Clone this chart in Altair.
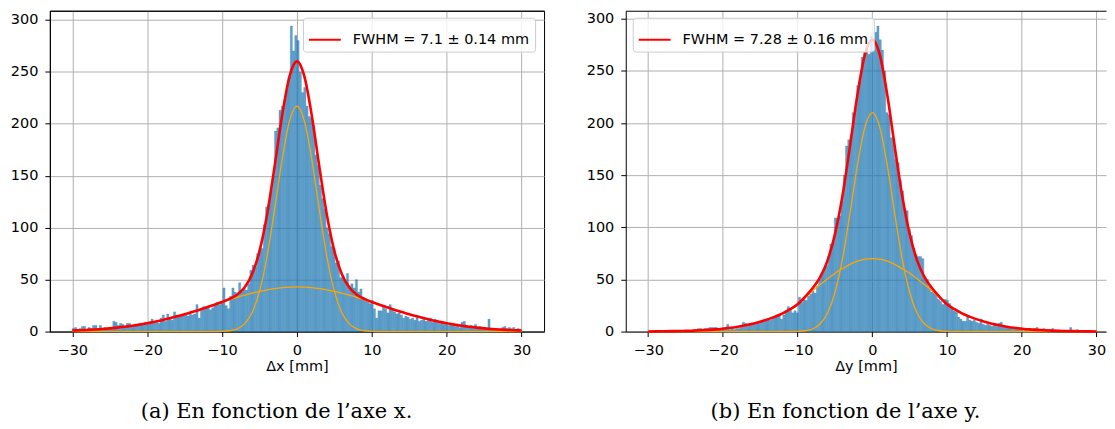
import altair as alt
import numpy as np
import pandas as pd

# ---------------- data ----------------
bin_lo = -30.0
bin_width = 0.3

counts_dx = [3, 4, 2, 3, 5, 5, 2, 4, 3, 6, 6, 3, 6, 2, 4, 3, 4, 4, 10, 9,
             6, 8, 7, 5, 8, 8, 5, 6, 7, 6, 8, 7, 9, 7, 8, 12, 9, 10, 8, 13,
             16, 10, 17, 13, 11, 19, 16, 15, 17, 15, 16, 15, 18, 16, 17, 26, 13, 22, 24, 23,
             24, 21, 23, 25, 28, 26, 28, 42, 25, 22, 34, 42, 38, 36, 47, 38, 42, 40, 46, 59,
             64, 62, 75, 78, 80, 103, 120, 122, 136, 150, 193, 196, 213, 217, 222, 232, 245, 294, 270, 285,
             280, 250, 230, 235, 217, 207, 205, 198, 170, 160, 141, 128, 118, 100, 94, 82, 80, 66, 68, 52,
             54, 48, 56, 44, 46, 42, 50, 38, 41, 33, 31, 29, 27, 30, 22, 13, 20, 20, 25, 22,
             18, 26, 21, 19, 17, 18, 16, 13, 15, 14, 12, 13, 11, 14, 10, 11, 12, 10, 11, 13,
             9, 12, 11, 8, 9, 7, 9, 6, 8, 6, 5, 7, 4, 9, 10, 6, 5, 6, 5, 7,
             4, 5, 3, 4, 3, 12, 3, 2, 3, 2, 1, 4, 5, 3, 4, 3, 4, 2, 3, 2]

counts_dy = [0, 0, 0, 0, 0, 0, 0, 0, 0, 0, 0, 0, 0, 0, 0, 1, 0, 1, 1, 0,
             1, 2, 3, 3, 2, 3, 3, 4, 4, 4, 4, 3, 2, 3, 3, 7, 2, 3, 2, 3,
             3, 4, 9, 8, 5, 6, 8, 7, 9, 8, 10, 11, 10, 12, 11, 13, 15, 16, 17, 12,
             16, 20, 24, 22, 18, 20, 18, 33, 28, 31, 30, 34, 36, 39, 37, 44, 50, 55, 61, 63,
             72, 84, 86, 109, 109, 111, 125, 150, 178, 184, 189, 210, 214, 236, 241, 263, 268, 272, 266, 283,
             269, 287, 293, 280, 270, 250, 210, 208, 186, 185, 165, 162, 145, 135, 118, 116, 98, 92, 80, 74,
             72, 72, 70, 53, 50, 43, 38, 39, 37, 31, 29, 26, 31, 30, 27, 23, 20, 19, 14, 12,
             10, 10, 14, 11, 10, 11, 9, 8, 12, 7, 6, 7, 6, 5, 7, 5, 8, 9, 6, 4,
             5, 4, 3, 4, 4, 3, 2, 1, 2, 1, 2, 1, 3, 4, 2, 1, 3, 1, 1, 2,
             3, 1, 0, 1, 1, 0, 1, 0, 4, 0, 1, 2, 0, 0, 1, 0, 0, 0, 0, 0]

curve_pos = list(range(-30, 31))

fit_dx_total = [1.0, 1.25, 1.6, 2.0, 2.5, 3.1, 3.8, 4.6, 5.6, 6.7, 8.0, 9.4, 11.0, 12.8, 14.7, 16.7,
                18.9, 21.1, 23.5, 25.9, 28.4, 31.4, 35.5, 42.4, 55.1, 77.4, 112.2, 158.1, 207.0, 245.3,
                260.0,
                245.3, 207.0, 158.1, 112.2, 77.4, 55.1, 42.4, 35.5, 31.4, 28.4, 25.9, 23.5, 21.1, 18.9,
                16.7, 14.7, 12.8, 11.0, 9.4, 8.0, 6.7, 5.6, 4.6, 3.8, 3.1, 2.5, 2.0, 1.6, 1.25, 1.0]
fit_dx_narrow = [0, 0, 0, 0, 0, 0, 0, 0, 0, 0, 0, 0, 0, 0, 0, 0, 0, 0, 0, 0,
                 0.2, 0.8, 2.6, 7.4, 18.1, 38.7, 72.0, 116.7, 164.7, 202.5,
                 217.0,
                 202.5, 164.7, 116.7, 72.0, 38.7, 18.1, 7.4, 2.6, 0.8, 0.2,
                 0, 0, 0, 0, 0, 0, 0, 0, 0, 0, 0, 0, 0, 0, 0, 0, 0, 0, 0, 0]
fit_dx_wide = [1.0, 1.25, 1.6, 2.0, 2.5, 3.1, 3.8, 4.6, 5.6, 6.7, 8.0, 9.4, 11.0, 12.8, 14.7, 16.7,
               18.9, 21.1, 23.5, 25.9, 28.2, 30.6, 32.9, 35.0, 37.0, 38.7, 40.2, 41.4, 42.3, 42.8,
               43.0,
               42.8, 42.3, 41.4, 40.2, 38.7, 37.0, 35.0, 32.9, 30.6, 28.2, 25.9, 23.5, 21.1, 18.9,
               16.7, 14.7, 12.8, 11.0, 9.4, 8.0, 6.7, 5.6, 4.6, 3.8, 3.1, 2.5, 2.0, 1.6, 1.25, 1.0]

fit_dy_total = [0.15, 0.2, 0.3, 0.4, 0.5, 0.7, 0.9, 1.2, 1.6, 2.1, 2.8, 3.6, 4.7, 6.0, 7.6, 9.5,
                11.7, 14.3, 17.5, 21.5, 26.2, 33.3, 41.5, 52.0, 68.1, 93.5, 130.0, 177.4, 226.9, 265.3,
                280.0,
                265.3, 226.9, 177.4, 130.0, 93.5, 68.1, 52.0, 41.5, 33.3, 26.2, 21.5, 17.5, 14.3, 11.7,
                9.5, 7.6, 6.0, 4.7, 3.6, 2.8, 2.1, 1.6, 1.2, 0.9, 0.7, 0.5, 0.4, 0.3, 0.2, 0.15]
fit_dy_narrow = [0, 0, 0, 0, 0, 0, 0, 0, 0, 0, 0, 0, 0, 0, 0, 0, 0, 0, 0, 0,
                 0.2, 0.8, 2.5, 7.2, 17.5, 37.5, 69.7, 112.9, 159.4, 195.9,
                 210.0,
                 195.9, 159.4, 112.9, 69.7, 37.5, 17.5, 7.2, 2.5, 0.8, 0.2,
                 0, 0, 0, 0, 0, 0, 0, 0, 0, 0, 0, 0, 0, 0, 0, 0, 0, 0, 0, 0]
fit_dy_wide = [0.15, 0.2, 0.3, 0.4, 0.5, 0.7, 0.9, 1.2, 1.6, 2.1, 2.8, 3.6, 4.7, 6.0, 7.6, 9.5,
               11.7, 14.3, 17.5, 21.5, 26.0, 32.5, 39.0, 44.8, 50.6, 56.0, 60.3, 64.5, 67.5, 69.4,
               70.0,
               69.4, 67.5, 64.5, 60.3, 56.0, 50.6, 44.8, 39.0, 32.5, 26.0, 21.5, 17.5, 14.3, 11.7,
               9.5, 7.6, 6.0, 4.7, 3.6, 2.8, 2.1, 1.6, 1.2, 0.9, 0.7, 0.5, 0.4, 0.3, 0.2, 0.15]

legend_dx = "FWHM = 7.1 ± 0.14 mm"
legend_dy = "FWHM = 7.28 ± 0.16 mm"
title_dx = "Δx [mm]"
title_dy = "Δy [mm]"
caption_dx = "(a) En fonction de l’axe x."
caption_dy = "(b) En fonction de l’axe y."
x_ticks = [-30, -20, -10, 0, 10, 20, 30]
y_ticks = [0, 50, 100, 150, 200, 250, 300]

FONT = "DejaVu Sans"
FS = 14.5
H = 322


def panel(counts, total, narrow, wide, label, xtitle, caption, ymax, lx, width, xmax, frame_right):
    edges = bin_lo + bin_width * np.arange(len(counts) + 1)
    hist_df = pd.DataFrame({"x0": edges[:-1], "x1": edges[1:], "count": counts})
    comp_df = pd.concat([
        pd.DataFrame({"pos": curve_pos, "value": narrow, "comp": "narrow"}),
        pd.DataFrame({"pos": curve_pos, "value": wide, "comp": "wide"}),
    ])
    tot_df = pd.DataFrame({"pos": curve_pos, "value": total, "label": label})

    xscale = alt.Scale(domain=[-33, xmax], nice=False, zero=False)
    yscale = alt.Scale(domain=[0, ymax], nice=False)
    xaxis = alt.Axis(title=xtitle, values=x_ticks, format="d", grid=True)
    yaxis = alt.Axis(title=None, values=y_ticks, format="d", grid=True,
                     minExtent=41, maxExtent=41)
    top_axis = alt.Axis(orient="top", title=None, labels=False, ticks=False, grid=False,
                        domain=True, domainColor="black", domainWidth=1)

    hist = alt.Chart(hist_df).mark_rect(
        fill="#1f77b4", fillOpacity=0.7, stroke="#1f77b4", strokeOpacity=0.5, strokeWidth=0.4
    ).encode(
        x=alt.X("x0:Q", scale=xscale, axis=xaxis),
        x2="x1:Q",
        y=alt.Y("count:Q", scale=yscale, axis=yaxis),
        y2=alt.datum(0),
    )
    comps = alt.Chart(comp_df).mark_line(
        color="#ffa500", strokeWidth=1.3, interpolate="monotone"
    ).encode(
        x=alt.X("pos:Q", scale=xscale, axis=None),
        y=alt.Y("value:Q", scale=yscale, axis=yaxis),
        detail="comp:N",
    )
    fit = alt.Chart(tot_df).mark_line(
        strokeWidth=2.6, interpolate="monotone"
    ).encode(
        x=alt.X("pos:Q", scale=xscale, axis=top_axis),
        y=alt.Y("value:Q", scale=yscale, axis=yaxis),
        color=alt.Color(
            "label:N",
            scale=alt.Scale(domain=[label], range=["#ff0000"]),
            legend=alt.Legend(
                title=None, orient="none", legendX=lx, legendY=7,
                symbolType="stroke", symbolSize=1024, symbolStrokeWidth=2,
                labelFont=FONT, labelFontSize=FS, labelColor="black", labelOffset=11,
                labelLimit=0,
                fillColor="rgba(255,255,255,0.8)", strokeColor="#cccccc",
                cornerRadius=3, padding=5,
            ),
        ),
    )
    return alt.layer(hist, comps, fit).resolve_axis(x="independent").properties(
        width=width, height=H,
        view=alt.ViewBackground(stroke="black" if frame_right else "transparent", strokeWidth=1),
        title=alt.TitleParams(
            text=caption, orient="bottom", anchor="middle", frame="bounds",
            font="DejaVu Serif", fontSize=21, fontWeight="normal", color="black",
            offset=28,
        ),
    )


left = panel(counts_dx, fit_dx_total, fit_dx_narrow, fit_dx_wide, legend_dx, title_dx,
             caption_dx, 308.7, 254, 496, 33, True)
right = panel(counts_dy, fit_dy_total, fit_dy_narrow, fit_dy_wide, legend_dy, title_dy,
              caption_dy, 307.7, 7, 482, 31.27, False)

chart = alt.hconcat(left, right, spacing=39).resolve_scale(
    color="independent"
).resolve_legend(color="independent").properties(
    padding={"left": 0, "top": 1, "right": 0, "bottom": 0}
).configure_axis(
    gridColor="#b0b0b0", gridWidth=1, gridOpacity=1,
    domainColor="black", domainWidth=1,
    tickColor="black", tickSize=5, tickWidth=1,
    labelFont=FONT, labelFontSize=FS, labelColor="black", labelPadding=7,
    titleFont=FONT, titleFontSize=FS, titleFontWeight="normal", titleColor="black",
    titlePadding=3,
)

chart.save("out.html", embed_options={"renderer": "svg", "actions": False})
